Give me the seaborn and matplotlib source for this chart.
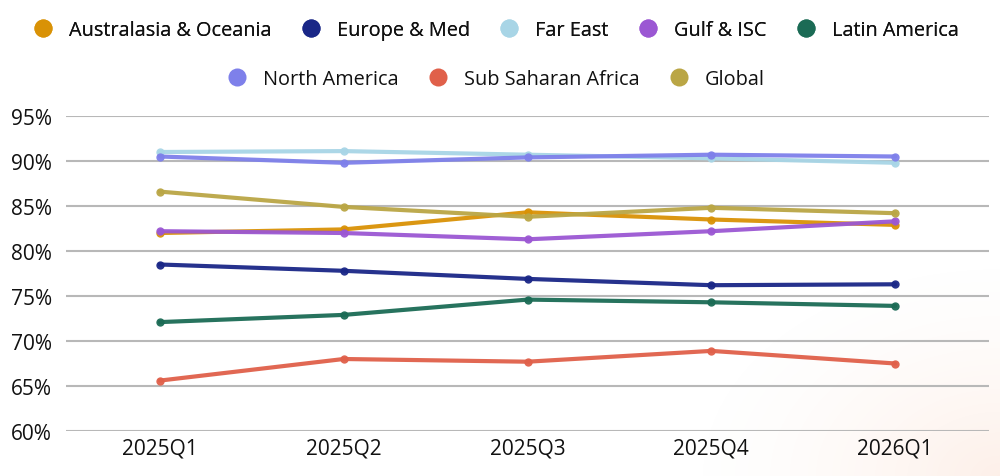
import numpy as np
import pandas as pd
import matplotlib
matplotlib.use("Agg")
import matplotlib.pyplot as plt
from matplotlib.lines import Line2D
import seaborn as sns

quarters = ["2025Q1", "2025Q2", "2025Q3", "2025Q4", "2026Q1"]
regions = ["Australasia & Oceania", "Europe & Med", "Far East", "Gulf & ISC",
           "Latin America", "North America", "Sub Saharan Africa", "Global"]
australasia = [82.0, 82.4, 84.3, 83.5, 82.9]
europe = [78.5, 77.8, 76.9, 76.2, 76.3]
far_east = [91.0, 91.1, 90.7, 90.3, 89.8]
gulf = [82.2, 82.0, 81.3, 82.2, 83.3]
latin = [72.1, 72.9, 74.6, 74.3, 73.9]
north_america = [90.5, 89.8, 90.4, 90.7, 90.5]
ssa = [65.6, 68.0, 67.7, 68.9, 67.5]
global_ = [86.6, 84.9, 83.8, 84.8, 84.2]
yticks = [60, 65, 70, 75, 80, 85, 90, 95]

series = [australasia, europe, far_east, gulf, latin, north_america, ssa, global_]
colors = ["#D99206", "#1A2787", "#A8D5E6", "#9B57D3", "#1B6B55",
          "#7E80EA", "#E0604A", "#BAA645"]

rows = []
for reg, vals in zip(regions, series):
    for q, v in zip(quarters, vals):
        rows.append({"Region": reg, "Quarter": q, "Value": v})
df = pd.DataFrame(rows)

sns.set_theme(style="white")
plt.rcParams["font.family"] = ["Open Sans", "DejaVu Sans"]

fig = plt.figure(figsize=(10, 4.77), dpi=100)

# subtle peach glow in bottom-right corner
bg = fig.add_axes([0, 0, 1, 1], zorder=-10)
yy, xx = np.mgrid[0:477, 0:1000]
d = np.sqrt(((xx - 1000) / 330.0) ** 2 + ((yy - 477) / 230.0) ** 2)
alpha = np.clip(1 - d, 0, 1) ** 1.6 * 0.16
img = np.ones((477, 1000, 4))
img[..., 0] = 0.96
img[..., 1] = 0.62
img[..., 2] = 0.45
img[..., 3] = alpha
bg.imshow(img, extent=[0, 1, 0, 1], aspect="auto", origin="upper")
bg.set_xlim(0, 1)
bg.set_ylim(0, 1)
bg.axis("off")

ax = fig.add_axes([0.066, 1 - 432 / 477, 0.923, (432 - 117) / 477])
ax.patch.set_alpha(0)
sns.lineplot(data=df, x="Quarter", y="Value", hue="Region", hue_order=regions,
             palette=colors, marker="o", markersize=6, markeredgewidth=0,
             linewidth=3, sort=False, legend=False, ax=ax, alpha=0.95)

ax.set_xlim(-0.51, 4.51)
ax.set_ylim(60, 95)
ax.set_yticks(yticks)
ax.set_yticklabels([f"{t}%" for t in yticks])
ax.yaxis.grid(True, color="#B8B8B8", linewidth=1.5)
ax.set_axisbelow(True)
ax.set_xlabel("")
ax.set_ylabel("")
for s in ax.spines.values():
    s.set_visible(False)
ax.tick_params(axis="both", length=0, labelsize=15, colors="#111111")
ax.tick_params(axis="y", pad=10)
ax.tick_params(axis="x", pad=5)

def handles(idx):
    return [Line2D([0], [0], marker="o", linestyle="", markersize=13,
                   markerfacecolor=colors[i], markeredgewidth=0, label=regions[i])
            for i in idx]

leg1 = fig.legend(handles=handles(range(5)), loc="center", ncol=5,
                  bbox_to_anchor=(0.491, 1 - 31 / 477), frameon=False,
                  fontsize=14.3, handletextpad=0.3, columnspacing=1.0,
                  labelcolor="#111111")
fig.add_artist(leg1)
fig.legend(handles=handles(range(5, 8)), loc="center", ncol=3,
           bbox_to_anchor=(0.491, 1 - 80 / 477), frameon=False,
           fontsize=14.3, handletextpad=0.3, columnspacing=1.0,
           labelcolor="#111111")

fig.savefig("out.png", dpi=100)
